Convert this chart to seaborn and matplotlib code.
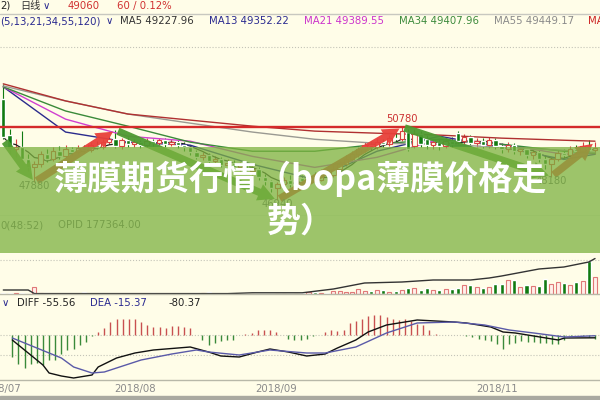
import numpy as np
import matplotlib
matplotlib.use("Agg")
import matplotlib.pyplot as plt
import seaborn as sns
from matplotlib.patches import Rectangle, FancyArrowPatch
from matplotlib.lines import Line2D

# daily candles (price)
opens = [52260, 50360, 49610, 49720, 49080, 48660, 48820, 49350, 49080, 49510,
         49240, 49610, 49460, 49670, 49560, 49830, 49720, 49990, 50140, 49770,
         50090, 49880, 49990, 49830, 50040, 49930, 50090, 49880, 49990, 49830,
         49720, 49460, 49190, 49300, 48980, 49080, 48770, 48870, 48660, 48770,
         48450, 48550, 48130, 47920, 47600, 47760, 47970, 47810, 48080, 47920,
         48180, 48020, 48340, 48240, 48550, 48820, 49080, 49350, 49610, 49830,
         49720, 49990, 49880, 50200, 50140, 50520, 49770, 50410, 50140, 49830,
         49990, 49770, 50040, 50460, 50040, 50250, 49930, 50040, 49830, 50090,
         49770, 49610, 49830, 49510, 49610, 49300, 49460, 49080, 48820, 49080,
         49400, 49300, 49610, 49510, 49770, 49560]
closes = [50250, 49610, 49720, 49080, 48660, 48820, 49350, 49080, 49510, 49240,
          49610, 49460, 49670, 49560, 49830, 49720, 49990, 50140, 49770, 50090,
          49880, 49990, 49830, 50040, 49930, 50090, 49880, 49990, 49830, 49720,
          49460, 49190, 49300, 48980, 49080, 48770, 48870, 48660, 48770, 48450,
          48550, 48130, 47920, 47600, 47760, 47970, 47810, 48080, 47920, 48180,
          48020, 48340, 48240, 48550, 48820, 49080, 49350, 49610, 49830, 49720,
          49990, 49880, 50200, 50140, 50570, 49610, 50410, 49880, 49830, 49990,
          49770, 50040, 49880, 50040, 50250, 49930, 50040, 49830, 50090, 49770,
          49610, 49830, 49510, 49610, 49300, 49460, 49080, 48820, 49080, 49400,
          49300, 49610, 49510, 49770, 49560, 49670]
highs = [53060, 50670, 50140, 50570, 49350, 48980, 49510, 49610, 49720, 49770,
         49830, 49720, 49830, 49830, 49990, 50040, 50140, 50300, 50620, 50200,
         50250, 50140, 50090, 50200, 50140, 50200, 50200, 50140, 50090, 49990,
         49830, 49560, 49460, 49400, 49240, 49190, 49080, 49030, 48930, 48870,
         48710, 48660, 48290, 48020, 47870, 48130, 48240, 48290, 48240, 48340,
         48400, 48550, 48550, 48770, 48980, 49300, 49510, 49720, 49990, 50040,
         50200, 50140, 50360, 50460, 50780, 50670, 50670, 50570, 50360, 50140,
         50140, 50200, 50250, 50570, 50410, 50360, 50200, 50200, 50250, 50200,
         49930, 49990, 49930, 49770, 49720, 49610, 49560, 49300, 49190, 49560,
         49610, 49770, 49830, 49990, 50090, 49990]
lows = [50140, 49350, 49190, 48980, 48450, 47880, 48660, 48930, 48980, 49080,
        49140, 49300, 49350, 49460, 49460, 49610, 49610, 49880, 49670, 49610,
        49720, 49720, 49670, 49720, 49770, 49830, 49720, 49770, 49670, 49510,
        49300, 49080, 49030, 48820, 48770, 48660, 48610, 48500, 48450, 48290,
        48240, 48020, 47710, 47390, 46940, 47600, 47650, 47710, 47760, 47810,
        47870, 47920, 48080, 48130, 48450, 48710, 48980, 49190, 49460, 49560,
        49610, 49720, 49770, 49990, 50040, 49510, 49670, 49720, 49610, 49610,
        49560, 49670, 49720, 49880, 49880, 49770, 49720, 49670, 49670, 49610,
        49400, 49460, 49350, 49300, 49140, 49080, 48930, 48550, 48180, 48980,
        49140, 49190, 49350, 49400, 49460, 49350]
volume = [7500, 5000, 5000, 5000, 2500, 35000, 7500, 5000, 2500, 2500,
          2500, 2500, 2500, 10000, 2500, 2500, 2500, 2500, 2500, 2500,
          2500, 2500, 2500, 2500, 7500, 2500, 2500, 2500, 2500, 2500,
          2500, 5000, 5000, 10000, 2500, 2500, 2500, 2500, 2500, 2500,
          2500, 2500, 2500, 2500, 2500, 2500, 2500, 2500, 5000, 10000,
          10000, 5000, 5000, 15000, 15000, 12500, 10000, 25000, 15000, 15000,
          20000, 20000, 10000, 15000, 20000, 30000, 30000, 20000, 30000, 20000,
          20000, 25000, 25000, 30000, 45000, 45000, 35000, 30000, 35000, 50000,
          50000, 70000, 70000, 35000, 45000, 40000, 40000, 75000, 50000, 60000,
          55000, 45000, 60000, 65000, 165000, 85000]

# open interest (OPID), moving averages, MACD
oi_idx = [0, 4, 5, 36, 40, 48, 53, 58, 64, 69, 75, 78, 80, 86, 90, 94, 95]
oi_val = [20000, 20000, 2000, 2000, 6000, 6000, 25000, 55000, 60000, 70000,
          70000, 80000, 90000, 125000, 135000, 160000, 177364]

ma_idx = [0, 10, 20, 30, 40, 50, 60, 70, 80, 90, 95]
ma13 = [52900, 50520, 49990, 49830, 48820, 48020, 49510, 50300, 49720, 49080, 49350]
ma21 = [52900, 51200, 50300, 50040, 49240, 48660, 49190, 50140, 49880, 49350, 49390]
ma34 = [52900, 51630, 50830, 49990, 49510, 49510, 49880, 50140, 49880, 49510, 49410]
ma55 = [52950, 52160, 51470, 50990, 50520, 50140, 49930, 49880, 49720, 49560, 49450]
ma120 = [53060, 52160, 51470, 51150, 50830, 50570, 50460, 50360, 50200, 50090, 50040]

diff_idx = [0, 2, 5, 6, 8, 10, 13, 14, 17, 20, 23, 29, 32, 34, 37, 40, 42, 45, 48,
            51, 53, 56, 58, 61, 64, 66, 72, 74, 78, 80, 82, 85, 89, 90, 95]
diff_val = [-100, -300, -600, -760, -820, -860, -800, -640, -460, -360, -300, -240,
            -340, -420, -440, -340, -280, -340, -420, -380, -260, -100, 60, 200,
            260, 300, 260, 240, 160, 60, 40, -20, -100, -60, -56]
dea_idx = [0, 8, 10, 13, 15, 16, 21, 26, 30, 32, 37, 42, 48, 51, 56, 61, 66, 72,
           77, 81, 85, 90, 95]
dea_val = [-60, -460, -640, -760, -740, -700, -500, -380, -300, -340, -400, -300,
           -360, -360, -240, 40, 240, 260, 200, 100, 40, -40, -15]
macd_hist = [-430, -570, -650, -570, -550, -600, -500, -490, -370, -300,
             -270, -200, -130, -20, 70, 150, 270, 330, 320, 330,
             330, 270, 200, 170, 170, 150, 180, 180, 170, 150,
             10, -100, -200, -150, -110, -100, -100, 10, 30, 50,
             100, 110, 100, 70, 10, -70, -90, -90, -70, -10,
             10, 70, 110, 90, 110, 250, 290, 330, 380, 400,
             400, 370, 330, 310, 320, 290, 230, 200, 110, 30,
             10, 10, 0, 0, -10, -30, -70, -90, -110, -180,
             -270, -180, -150, -110, -130, -130, -150, -150, -170, -180,
             -100, -10, 0, -10, -30, -80]

tick_pos = [-2, 20, 43, 79]
tick_lab = ["2018/07", "2018/08", "2018/09", "2018/11"]

# trend arrows between swing points: (index, which price)
swing_idx = [0, 5, 18, 44, 64, 88, 95]
swing_src = ["low", "low", "high", "low", "high", "low", "high"]
label_lows = [5, 44, 88]
label_highs = [64]

BG = "#fffde8"
RED = "#d94040"
GREEN = "#117a11"

sns.set_theme(style="white")
plt.rcParams["font.family"] = ["DejaVu Sans", "Noto Sans CJK SC"]

o, h, l, c = (np.array(a, dtype=float) for a in (opens, highs, lows, closes))
vol = np.array(volume, dtype=float)
hist = np.array(macd_hist, dtype=float)
idx = np.arange(len(c))
up = c >= o


def frac(x, y):
    return x / 600, 1 - y / 400


fig = plt.figure(figsize=(6, 4), dpi=100, facecolor=BG)
ax_p = fig.add_axes([0, 1 - 216 / 400, 1, 188 / 400])
ax_v = fig.add_axes([0, 1 - 294 / 400, 1, 78 / 400])
ax_m = fig.add_axes([0, 1 - 380 / 400, 1, 83 / 400])

for ax in (ax_p, ax_v, ax_m):
    ax.set_facecolor(BG)
    ax.set_xlim(-0.53, 95.8)
    for s in ("top", "left", "right"):
        ax.spines[s].set_visible(False)
    ax.spines["bottom"].set_color("#b8b8a8")
    ax.spines["bottom"].set_linewidth(1)
    ax.set_yticks([])
    ax.set_xticks([])

# price panel
ax_p.set_ylim(46100, 56000)
ax_p.axhline(55000, ls=":", color="#c4c4b8", lw=0.8)
ax_p.vlines(idx[up], l[up], h[up], color=RED, lw=0.8, zorder=2)
ax_p.vlines(idx[~up], l[~up], h[~up], color=GREEN, lw=0.8, zorder=2)
body = np.maximum(np.abs(c - o), 25)
ax_p.bar(idx[up], body[up], bottom=o[up], width=0.7, facecolor=BG,
         edgecolor=RED, lw=0.8, zorder=3)
ax_p.bar(idx[~up], body[~up], bottom=c[~up], width=0.7, color=GREEN, zorder=3)

ma5 = np.convolve(c, np.ones(5) / 5, mode="full")[:len(c)]
ma5[:4] = [c[:k + 1].mean() for k in range(4)]
sns.lineplot(x=idx, y=ma5, ax=ax_p, color="#222222", lw=0.9, zorder=2)
for vals, col in [(ma13, "#2b2b8c"), (ma21, "#d040d0"), (ma34, "#3a8a3a"),
                  (ma55, "#9a9a92"), (ma120, "#b03030")]:
    sns.lineplot(x=ma_idx, y=vals, ax=ax_p, color=col, lw=1, zorder=2)

peak = label_highs[0]
ax_p.axhline(h[peak], color="#d42a2a", lw=1.7, zorder=4)

src = {"low": l, "high": h}
pts = [(i, src[s][i]) for i, s in zip(swing_idx, swing_src)]
for (x0, y0), (x1, y1) in zip(pts[:-1], pts[1:]):
    col = "#e8403a" if y1 > y0 else "#4e9a30"
    ax_p.add_patch(FancyArrowPatch((x0, y0), (x1, y1),
                                   arrowstyle="simple,head_width=1.05,head_length=1.0,tail_width=0.45",
                                   mutation_scale=12, color=col, alpha=0.95,
                                   lw=0, zorder=5))

for i in label_highs:
    ax_p.annotate(f"{h[i]:.0f}", (i, h[i]), xytext=(0, 2), textcoords="offset points",
                  ha="center", va="bottom", color="#cc3333", fontsize=7.2, zorder=6)
for i in label_lows:
    ax_p.annotate(f"{l[i]:.0f}", (i, l[i]), xytext=(0, -3), textcoords="offset points",
                  ha="center", va="center", color="#666666", fontsize=7.2, zorder=6)

# volume panel
ax_v.set_ylim(0, 390000)
ax_v.axhline(170000, ls=":", color="#c4c4b8", lw=0.8)
ax_v.bar(idx[up], vol[up], width=0.65, facecolor="#fff0ea", edgecolor="#e07878", lw=0.8)
ax_v.bar(idx[~up], vol[~up], width=0.65, color=GREEN)
sns.lineplot(x=oi_idx, y=oi_val, ax=ax_v, color="#333333", lw=1)

# MACD panel
ax_m.set_ylim(-900, 760)
ax_m.axhline(0, ls=":", color="#c4c4b8", lw=0.8)
ax_m.axhline(-400, ls=":", color="#c4c4b8", lw=0.8)
ax_m.vlines(idx[hist >= 0], 0, hist[hist >= 0], color="#c85050", lw=1)
ax_m.vlines(idx[hist < 0], 0, hist[hist < 0], color="#3a8a3a", lw=1)
sns.lineplot(x=diff_idx, y=diff_val, ax=ax_m, color="#111111", lw=1)
sns.lineplot(x=dea_idx, y=dea_val, ax=ax_m, color="#5a5aa8", lw=1)
ax_m.set_xticks(tick_pos, tick_lab)
ax_m.tick_params(axis="x", length=0, pad=3, labelsize=7.3, labelcolor="#8a8a8a")
for ax in (ax_p, ax_v, ax_m):
    ax.set_xlabel("")
    ax.set_ylabel("")

# header texts
fig.add_artist(Line2D([0, 1], [1 - 14 / 400] * 2, color="#c8c8c0", lw=1))
hdr = [(0, 6, "2)", "#222222"), (20, 6, "日线", "#333333"), (43, 6, "∨", "#2a2a90"),
       (68, 6, "49060", "#d03030"), (117, 6, "60 / 0.12%", "#d03030"),
       (0, 21, "(5,13,21,34,55,120)", "#2a2a90"), (106, 21, "∨", "#2a2a90"),
       (120, 21, "MA5 49227.96", "#333333"), (209, 21, "MA13 49352.22", "#2a2a90"),
       (304, 21, "MA21 49389.55", "#cc33cc"), (399, 21, "MA34 49407.96", "#3d8b3d"),
       (494, 21, "MA55 49449.17", "#8a8a8a"), (588, 21, "MA120", "#cc2222"),
       (0, 225, "0(48:52)", "#666666"), (58, 225, "OPID 177364.00", "#666666"),
       (2, 303, "∨", "#2a2a90"), (17, 303, "DIFF -55.56", "#222222"),
       (90, 303, "DEA -15.37", "#2a2a90"), (168, 303, "-80.37", "#222222")]
for x, y, s, col in hdr:
    fig.text(*frac(x, y), s, ha="left", va="center", color=col, fontsize=7.3)

fig.add_artist(Rectangle((0, 0), 1, 4 / 400, transform=fig.transFigure,
                         color="#a9a9a0", zorder=9))

# title banner over the chart
fig.add_artist(Rectangle(frac(0, 253), 1, 106 / 400, transform=fig.transFigure,
                         color="#7cb240", alpha=0.75, lw=0, zorder=10))
fig.text(*frac(300, 179), "薄膜期货行情（bopa薄膜价格走", ha="center", va="center",
         color="white", fontsize=24.5, fontweight="bold",
         family=["Noto Sans CJK SC", "DejaVu Sans"], zorder=11)
fig.text(*frac(301, 221), "势）", ha="center", va="center",
         color="white", fontsize=24.5, fontweight="bold",
         family=["Noto Sans CJK SC", "DejaVu Sans"], zorder=11)

fig.savefig("out.png", dpi=100, facecolor=BG)
